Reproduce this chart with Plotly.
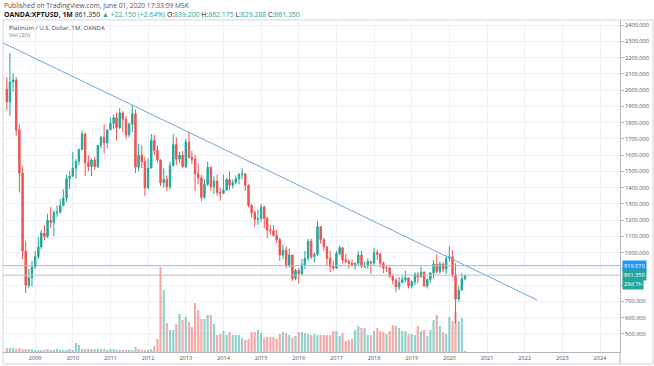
import plotly.graph_objects as go
import pandas as pd

# ---------------- data ----------------
start_month = "2008-04-01"
first_open = 2007.0

closes = [
    1927, 2050, 2062, 1755, 1490, 1010, 800, 845, 912,
    975, 1035, 1121, 1100, 1200, 1185, 1245, 1250, 1290, 1335, 1455, 1470,
    1520, 1560, 1635, 1730, 1555, 1530, 1570, 1530, 1660, 1710, 1675, 1755,
    1795, 1830, 1770, 1860, 1820, 1725, 1790, 1855, 1525, 1600, 1560, 1400,
    1520, 1690, 1630, 1570, 1430, 1450, 1405, 1535, 1665, 1575, 1600, 1530,
    1680, 1585, 1575, 1485, 1460, 1340, 1420, 1525, 1405, 1440, 1370, 1365,
    1385, 1450, 1415, 1430, 1455, 1480, 1485, 1415, 1290, 1245, 1205, 1210,
    1280, 1210, 1140, 1135, 1105, 1080, 985, 1015, 920, 985, 840, 890,
    870, 925, 965, 1070, 975, 990, 1160, 1080, 1035, 965, 915, 905,
    995, 1030, 955, 945, 935, 925, 935, 985, 915, 920, 945, 935,
    1000, 990, 935, 905, 905, 855, 830, 790, 815, 835, 845, 795,
    820, 865, 850, 880, 795, 835, 875, 930, 885, 930, 900, 965,
    975, 865, 715, 770, 839.2, 861.35,
]
highs = [
    2081, 2228, 2105, 2080, 1790, 1530, 1070, 900, 950,
    1010, 1095, 1140, 1170, 1240, 1280, 1260, 1290, 1330, 1390, 1480, 1500,
    1620, 1575, 1640, 1750, 1740, 1600, 1580, 1590, 1660, 1720, 1790, 1760,
    1830, 1850, 1860, 1890, 1870, 1840, 1800, 1910, 1880, 1670, 1660, 1590,
    1580, 1730, 1725, 1660, 1575, 1520, 1475, 1560, 1730, 1710, 1620, 1625,
    1700, 1740, 1625, 1600, 1550, 1480, 1450, 1560, 1530, 1470, 1480, 1400,
    1480, 1460, 1500, 1450, 1475, 1490, 1520, 1490, 1420, 1300, 1260, 1265,
    1300, 1290, 1220, 1170, 1170, 1140, 1090, 1050, 1040, 1025, 990, 900,
    905, 960, 1010, 1085, 1085, 1000, 1195, 1160, 1090, 1040, 1010, 950,
    1010, 1045, 1035, 990, 960, 960, 940, 1010, 1010, 945, 965, 945,
    1030, 1020, 1000, 945, 920, 915, 865, 845, 850, 855, 890, 835,
    830, 880, 880, 915, 885, 840, 880, 955, 990, 945, 940, 985,
    1040, 1015, 935, 795, 875, 862.175,
]
lows = [
    1878, 1840, 1990, 1720, 1370, 960, 752, 780, 790,
    900, 960, 1020, 1075, 1090, 1150, 1100, 1220, 1240, 1285, 1315, 1390,
    1470, 1455, 1540, 1630, 1470, 1500, 1470, 1510, 1520, 1640, 1610, 1640,
    1760, 1760, 1690, 1760, 1740, 1700, 1710, 1740, 1490, 1500, 1520, 1350,
    1390, 1520, 1600, 1555, 1410, 1400, 1380, 1390, 1530, 1540, 1550, 1520,
    1520, 1580, 1545, 1380, 1420, 1315, 1330, 1410, 1380, 1360, 1350, 1320,
    1370, 1380, 1385, 1395, 1420, 1420, 1450, 1380, 1280, 1215, 1160, 1170,
    1190, 1150, 1090, 1110, 1100, 1060, 950, 960, 905, 910, 825, 830,
    810, 860, 900, 950, 960, 940, 980, 1055, 1010, 920, 880, 890,
    900, 985, 935, 935, 905, 915, 895, 920, 905, 905, 900, 870,
    925, 955, 910, 875, 880, 845, 805, 757, 770, 815, 820, 780,
    780, 800, 810, 850, 790, 780, 815, 840, 870, 870, 880, 870,
    945, 850, 562, 700, 765, 829.288,
]
volumes = [
    4, 4, 4, 3, 4, 3, 3, 3, 3,
    2, 2, 2, 2, 3, 2, 2, 3, 2, 2, 2, 3,
    2, 9, 7, 3, 3, 3, 3, 3, 3, 3, 3, 2,
    3, 3, 2, 2, 2, 2, 2, 2, 5, 3, 2, 2,
    2, 3, 6, 13, 85, 62, 29, 22, 22, 28, 38, 32,
    35, 30, 25, 49, 42, 33, 33, 37, 37, 28, 17, 18,
    21, 17, 20, 17, 17, 17, 14, 12, 13, 20, 20, 22,
    19, 14, 15, 15, 15, 13, 18, 20, 19, 17, 14, 16,
    20, 20, 19, 18, 17, 18, 17, 17, 17, 17, 17, 21,
    21, 16, 19, 11, 12, 13, 22, 26, 24, 24, 17, 17,
    21, 24, 21, 20, 18, 21, 27, 26, 24, 21, 21, 18,
    18, 17, 26, 21, 22, 16, 22, 32, 37, 26, 20, 18,
    35, 31, 40, 31, 34, 1,
]

year_ticks = ["2009-01-01", "2010-01-01", "2011-01-01", "2012-01-01", "2013-01-01",
              "2014-01-01", "2015-01-01", "2016-01-01", "2017-01-01", "2018-01-01",
              "2019-01-01", "2020-01-01", "2021-01-01", "2022-01-01", "2023-01-01",
              "2024-01-01"]
year_labels = ["2009", "2010", "2011", "2012", "2013", "2014", "2015", "2016",
               "2017", "2018", "2019", "2020", "2021", "2022", "2023", "2024"]
price_ticks = [500, 600, 700, 800, 900, 1000, 1100, 1200, 1300, 1400, 1500, 1600,
               1700, 1800, 1900, 2000, 2100, 2200, 2300, 2400]
hidden_price_ticks = [800, 900]

trend_dates = ["2008-02-24", "2022-05-01"]
trend_prices = [2290, 709]
level_price = 919.970
last_price = 861.350

# ---------------- style ----------------
W, H = 654, 366
ML, MR, MT, MB = 3, 34, 20, 14
PW, PH = W - ML - MR, H - MT - MB
GREEN = "#26a69a"
RED = "#ef5350"
VGREEN = "rgba(38,166,154,0.5)"
VRED = "rgba(239,83,80,0.5)"
GRID = "#eef1f6"
AXIS = "#b2b5be"
TXT = "#50535e"
FONT = "Open Sans"
AXFONT = 5.6


def px(x, y):
    return (x - ML) / PW, (H - MB - y) / PH


dates = pd.date_range(start_month, periods=len(closes), freq="MS")
opens = [first_open] + closes[:-1]
vol_colors = [VGREEN if c >= o else VRED for o, c in zip(opens, closes)]
price_labels = ["" if v in hidden_price_ticks else f"{v:.3f}" for v in price_ticks]

fig = go.Figure()
fig.add_trace(go.Bar(x=dates, y=volumes, marker_color=vol_colors, marker_line_width=0,
                     xaxis="x", yaxis="y", hoverinfo="skip", showlegend=False))
fig.add_trace(go.Candlestick(
    x=dates, open=opens, high=highs, low=lows, close=closes,
    xaxis="x", yaxis="y2", whiskerwidth=0,
    increasing=dict(line=dict(color=GREEN, width=1), fillcolor=GREEN),
    decreasing=dict(line=dict(color=RED, width=1), fillcolor=RED),
    showlegend=False))

shapes = [
    dict(type="line", xref="x", yref="y2", x0=trend_dates[0], y0=trend_prices[0],
         x1=trend_dates[1], y1=trend_prices[1], line=dict(color="#6fa8dc", width=1), layer="above"),
    dict(type="line", xref="paper", yref="y2", x0=0, x1=1, y0=level_price, y1=level_price,
         line=dict(color="#8fbdec", width=1), layer="above"),
    dict(type="line", xref="paper", yref="y2", x0=0, x1=1, y0=last_price, y1=last_price,
         line=dict(color="#a9c9c4", width=1), layer="above"),
]
x0p, y0p = px(3, 20)
x1p, y1p = px(653, 364)
shapes.append(dict(type="rect", xref="paper", yref="paper", x0=x0p, y0=y1p, x1=x1p, y1=y0p,
                   line=dict(color="#d1d4dc", width=1), fillcolor="rgba(0,0,0,0)", layer="below"))
ax, ay0 = px(620, 352)
_, ay1 = px(620, 364)
shapes.append(dict(type="line", xref="paper", yref="paper", x0=ax, x1=ax, y0=ay0, y1=ay1,
                   line=dict(color=AXIS, width=1)))

annotations = []


def add_text(x, y, text, size=6, color=TXT, **kw):
    xp, yp = px(x, y)
    annotations.append(dict(xref="paper", yref="paper", x=xp, y=yp, text=text, showarrow=False,
                            xanchor="left", yanchor="middle",
                            font=dict(size=size, color=color, family=FONT), **kw))


add_text(2, 5, "Published on TradingView.com, June 01, 2020 17:33:09 MSK", size=6.7)
g = lambda s: f'<span style="color:{GREEN}">{s}</span>'
add_text(2, 14, "<b>OANDA:XPTUSD, 1M</b> 861.350 " + g("▲ +22.150 (+2.64%)") + " O:" + g("839.200")
         + " H:" + g("862.175") + " L:" + g("829.288") + " C:" + g("861.350"),
         size=6.9, color="#131722")
add_text(7, 28, "Platinum / U.S. Dollar, 1M, OANDA", color="#434651")
add_text(7, 35, "Vol (20)", color="#787b86")

for val, txt, col, shift in [(level_price, "919.970", "#2196f3", 0),
                            (last_price, "861.350", GREEN, 0),
                            (last_price, "29d 7h", GREEN, -9)]:
    annotations.append(dict(xref="paper", yref="y2", x=1, y=val, text=txt, showarrow=False,
                            xanchor="left", yanchor="middle", xshift=2, yshift=shift,
                            bgcolor=col, borderpad=1,
                            font=dict(size=AXFONT, color="white", family=FONT)))

fig.update_layout(
    width=W, height=H, margin=dict(l=ML, r=MR, t=MT, b=MB, autoexpand=False),
    paper_bgcolor="white", plot_bgcolor="white",
    font=dict(family=FONT, size=6, color=TXT),
    bargap=0.25, showlegend=False, hovermode=False,
    xaxis=dict(type="date", range=["2008-02-24", "2024-07-13"], tickvals=year_ticks,
               ticktext=year_labels, showgrid=True, gridcolor=GRID, gridwidth=1,
               showline=True, linecolor=AXIS, linewidth=1, ticks="", zeroline=False,
               tickfont=dict(size=AXFONT, color=TXT), rangeslider=dict(visible=False)),
    yaxis=dict(range=[0, PH], visible=False, showgrid=False, zeroline=False),
    yaxis2=dict(overlaying="y", side="right", range=[389, 2431], tickvals=price_ticks,
                ticktext=price_labels, showgrid=True, gridcolor=GRID, gridwidth=1,
                showline=True, linecolor=AXIS, linewidth=1, ticks="outside", ticklen=3,
                tickcolor=AXIS, zeroline=False, tickfont=dict(size=AXFONT, color=TXT)),
    shapes=shapes, annotations=annotations,
)

fig.write_html("out.html", config={"displayModeBar": False, "staticPlot": True},
               post_script="document.body.style.margin='0';document.body.style.overflow='hidden';")
